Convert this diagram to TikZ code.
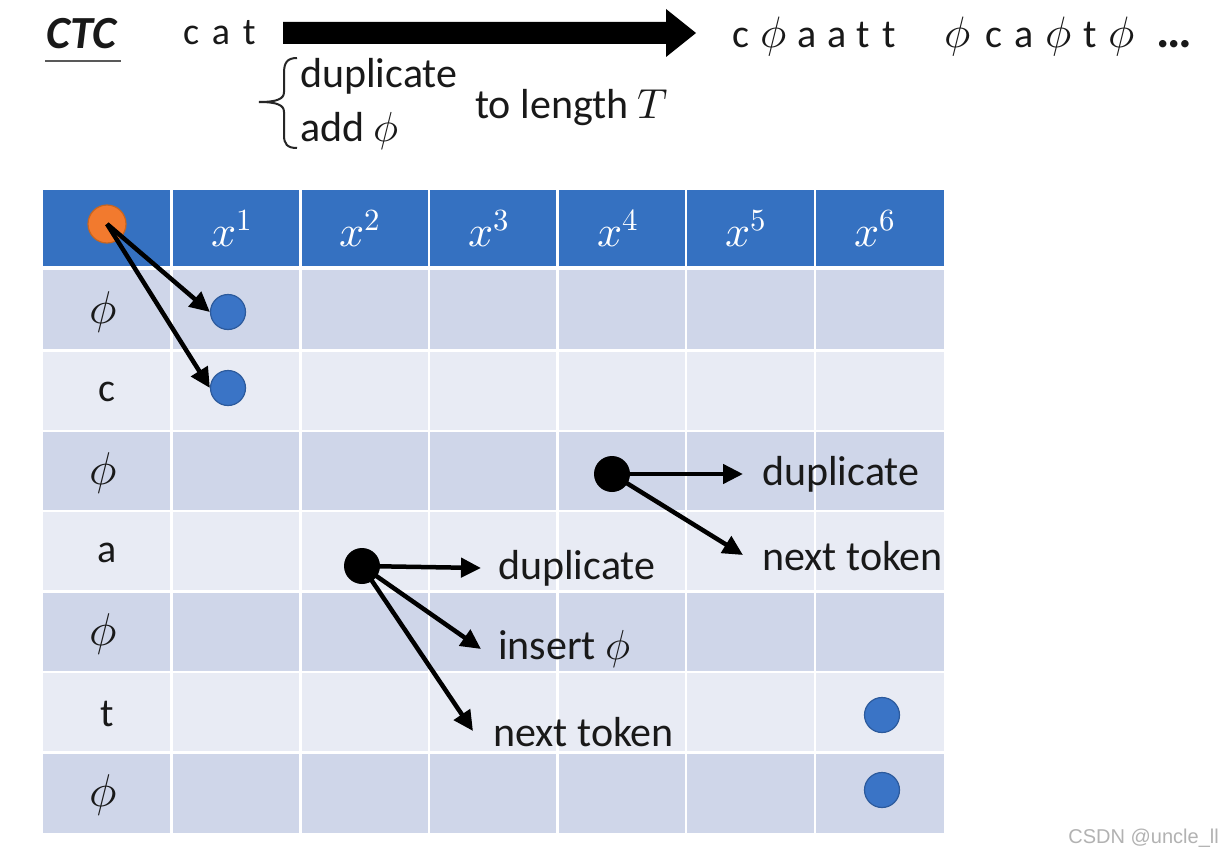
\documentclass[tikz,border=0pt]{standalone}
\usepackage{fontspec}
\usepackage{unicode-math}
\setmainfont{Carlito}[Ligatures={NoCommon}]
\setmathfont{Latin Modern Math}
\newfontfamily\wmfont{Liberation Sans}
\usetikzlibrary{arrows.meta}
\definecolor{hdr}{HTML}{3571C1}
\definecolor{bandA}{HTML}{CFD6E9}
\definecolor{bandB}{HTML}{E8EBF4}
\definecolor{dotblue}{HTML}{3A74C6}
\definecolor{dotblueline}{HTML}{2C5A9C}
\definecolor{dotorange}{HTML}{F27A2E}
\definecolor{dotorangeline}{HTML}{C8651F}
\begin{document}
\begin{tikzpicture}[x=1pt,y=-1pt,
  txt/.style={inner sep=0pt,font=\fontsize{42}{50}\selectfont,text=black!90},
  seqch/.style={inner sep=0pt,anchor=base west,font=\fontsize{40}{48}\selectfont,text=black!90},
  seqphi/.style={inner sep=0pt,anchor=base west,font=\fontsize{44}{52}\selectfont,text=black!90},
  rowlab/.style={inner sep=0pt,font=\fontsize{40}{48}\selectfont,text=black!90},
  rowphi/.style={inner sep=0pt,font=\fontsize{46}{54}\selectfont,text=black!90},
  hdrlab/.style={inner sep=0pt,font=\fontsize{44}{52}\selectfont,text=white},
  bluedot/.style={circle,minimum size=35pt,inner sep=0pt,fill=dotblue,draw=dotblueline,line width=1.2pt},
  blackdot/.style={circle,minimum size=36pt,inner sep=0pt,fill=black},
  orangedot/.style={circle,minimum size=38pt,inner sep=0pt,fill=dotorange,draw=dotorangeline,line width=1.2pt},
  arr/.style={line width=4.5pt,-{Triangle[length=20pt,width=19pt]}}]
\useasboundingbox[fill=white] (0,0) rectangle (1223,859);

% ---------- top line ----------
\node[txt,anchor=west,font=\fontsize{46}{54}\selectfont\bfseries\itshape] (ctc) at (46,34) {CTC};
\draw[line width=2.5pt,black!65] (45,61) -- (121,61);
\node[txt,anchor=west,font=\fontsize{38}{46}\selectfont] (cat) at (183,33) {c\,\,a\,\,t};
\fill[black] (283,22) -- (666,22) -- (666,9) -- (696,33) -- (666,57) -- (666,44) -- (283,44) -- cycle;
\foreach \xx/\ch [count=\n] in {732/c, 797/a, 827/a, 856/t, 882/t, 985/c, 1014/a, 1083/t}{
  \node[seqch] (s\n) at (\xx,48) {\ch};
}
\foreach \xx [count=\n] in {760, 944, 1045, 1108}{
  \node[seqphi] (p\n) at (\xx,48) {$\phi$};
}
\node[seqch,font=\fontsize{50}{58}\selectfont\bfseries] (dots) at (1156,48) {\char"2026};

% brace
\draw[line width=2pt,black!85] (297,58) .. controls (287,58) and (284,63) .. (284,73) -- (284,92) .. controls (284,99) and (277,102) .. (259,102) .. controls (277,102) and (284,105) .. (284,112) -- (284,135) .. controls (284,144) and (287,148) .. (297,148);
\node[txt,anchor=west] (dup0) at (300,76) {duplicate};
\node[txt,anchor=west] (add0) at (300,131) {add $\phi$};
\node[txt,anchor=west] (len) at (475,108) {to length $T$};

% ---------- table ----------
\fill[hdr] (43,190) rectangle (943.5,266);
\foreach \i in {0,...,6}{
  \pgfmathsetmacro{\ya}{270+\i*80.4}
  \pgfmathsetmacro{\yb}{270+(\i+1)*80.4}
  \pgfmathparse{mod(\i,2)==0 ? "bandA" : "bandB"}
  \edef\bc{\pgfmathresult}
  \fill[\bc] (43,\ya) rectangle (943.5,\yb);
}
\foreach \i in {1,...,6}{
  \draw[white,line width=2.5pt] (43,{270+\i*80.4}) -- (943.5,{270+\i*80.4});
  \draw[white,line width=2.5pt] ({43+\i*128.64},190) -- ({43+\i*128.64},834);
}

% header labels
\foreach \k in {1,...,6}{
  \node[hdrlab] (h\k) at ({103+\k*128.64},228) {$x^{\k}$};
}
% row labels
\node[rowphi] (r1) at (103,312) {$\phi$};
\node[rowlab] (r2) at (107,392) {c};
\node[rowphi] (r3) at (103,473) {$\phi$};
\node[rowlab] (r4) at (107,553) {a};
\node[rowphi] (r5) at (103,634) {$\phi$};
\node[rowlab] (r6) at (107,714) {t};
\node[rowphi] (r7) at (103,795) {$\phi$};

% dots
\node[orangedot] (start) at (107,224) {};
\node[bluedot] (b1) at (228,312) {};
\node[bluedot] (b2) at (228,388) {};
\node[bluedot] (b3) at (882,715) {};
\node[bluedot] (b4) at (882,790) {};
\node[blackdot] (k1) at (612,474) {};
\node[blackdot] (k2) at (362,566) {};

% arrows from start
\draw[arr] (start.center) -- (b1.west);
\draw[arr] (start.center) -- (b2.west);

% labels right
\node[txt,anchor=west] (d1) at (762,474) {duplicate};
\node[txt,anchor=west] (n1) at (762,556) {next token};
\node[txt,anchor=west] (d2) at (498,568) {duplicate};
\node[txt,anchor=west] (i2) at (498,649) {insert $\phi$};
\node[txt,anchor=west] (n2) at (493,732) {next token};

\coordinate (e1) at (743,474);
\coordinate (e2) at (743,555);
\coordinate (e3) at (481,568);
\coordinate (e4) at (481,649);
\coordinate (e5) at (473,731);
\draw[arr] (k1.center) -- (e1);
\draw[arr] (k1.center) -- (e2);
\draw[arr] (k2.center) -- (e3);
\draw[arr] (k2.center) -- (e4);
\draw[arr] (k2.center) -- (e5);

% watermark
\node[inner sep=0pt,anchor=east,font=\wmfont\fontsize{20}{24}\selectfont,text=black!30] (wm) at (1219,838) {CSDN @uncle\_ll};
\end{tikzpicture}
\end{document}
